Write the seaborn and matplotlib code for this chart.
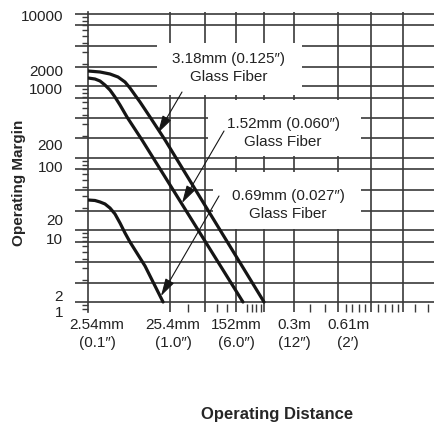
import numpy as np
import pandas as pd
import seaborn as sns
import matplotlib.pyplot as plt
from matplotlib.patches import Rectangle
from matplotlib.ticker import FixedLocator, NullFormatter, LogLocator

# Curves (distance in mm, operating margin)
fiber_318_x = [2.54, 3.56, 4.71, 5.90, 7.18, 8.26, 9.50, 10.94, 14.49, 22.1, 356]
fiber_318_y = [1616, 1565, 1468, 1334, 1136, 938, 750, 600, 371, 178, 1]
fiber_152_x = [2.54, 3.09, 3.56, 4.09, 4.71, 5.42, 6.24, 7.59, 11.57, 197]
fiber_152_y = [1292, 1251, 1173, 1032, 879, 703, 545, 371, 178, 1]
fiber_069_x = [2.54, 3.09, 3.56, 4.09, 4.71, 5.42, 6.24, 7.18, 8.26, 12.6, 20.9]
fiber_069_y = [26.1, 25.7, 24.5, 23.0, 20.2, 16.7, 12.5, 9.09, 6.81, 3.16, 1]

# grid and tick positions as they sit in the picture
x_grid = [25.4, 67.9, 162, 356, 826, 2843, 7178, 17623]
x_minor = [42.1, 95.1, 126, 221, 254, 284, 327, 1294, 1973, 3556, 4211,
           5126, 6066, 8740, 10637, 12945, 15317, 24693, 35560]
x_label_pos = [3.27, 27.6, 162, 826, 3764]
x_labels = ["2.54mm\n(0.1″)", "25.4mm\n(1.0″)", "152mm\n(6.0″)", "0.3m\n(12″)", "0.61m\n(2′)"]
y_grid = [1, 1.84, 3.6, 6.8, 10, 18.3, 36, 70, 100, 190, 359, 681,
          1000, 1836, 3594, 7030, 10000]
y_label_pos = [0.73, 1.25, 7.74, 13.8, 77.4, 152, 909, 1668, 9682]
y_labels = ["1", "2", "10", "20", "100", "200", "1000", "2000", "10000"]

df = pd.concat([
    pd.DataFrame({"distance": fiber_318_x, "margin": fiber_318_y, "fiber": "3.18mm"}),
    pd.DataFrame({"distance": fiber_152_x, "margin": fiber_152_y, "fiber": "1.52mm"}),
    pd.DataFrame({"distance": fiber_069_x, "margin": fiber_069_y, "fiber": "0.69mm"}),
])

sns.set_theme(style="white")
plt.rcParams["font.family"] = ["Liberation Sans", "DejaVu Sans"]
plt.rcParams["text.color"] = "#222222"

fig = plt.figure(figsize=(4.34, 4.29), dpi=100)
ax = fig.add_axes([88 / 434, 117 / 429, 346 / 434, 300 / 429])

sns.lineplot(data=df, x="distance", y="margin", hue="fiber",
             palette=["#151515"] * 3, linewidth=2.3, legend=False,
             estimator=None, ax=ax, zorder=3)

ax.set_xscale("log")
ax.set_yscale("log")
ax.set_xlim(2.54, 42100)
ax.set_ylim(0.7263, 10660)

gc = "#3a3a3a"
ax.vlines(x_grid, 0, 1, transform=ax.get_xaxis_transform(), colors=gc, lw=1.2, zorder=1)
ax.hlines(y_grid, -13 / 346, 1, transform=ax.get_yaxis_transform(), colors=gc,
          lw=1.2, zorder=1, clip_on=False)

for s in ["top", "right", "bottom"]:
    ax.spines[s].set_visible(False)
ax.spines["left"].set_color(gc)
ax.spines["left"].set_linewidth(1.2)

# white boxes behind the annotations
for x0, y0, w, h in [(0.1994, 0.7233, 0.419, 0.1733),
                     (0.3468, 0.52, 0.4422, 0.1867),
                     (0.3613, 0.2767, 0.4277, 0.19)]:
    ax.add_patch(Rectangle((x0, y0), w, h, transform=ax.transAxes,
                           facecolor="white", edgecolor="none", zorder=2, clip_on=False))

ax.text(0.4075, 0.8133, "3.18mm (0.125″)\nGlass Fiber", transform=ax.transAxes,
        ha="center", va="center", fontsize=11, linespacing=1.3, zorder=4)
ax.text(0.5636, 0.5967, "1.52mm (0.060″)\nGlass Fiber", transform=ax.transAxes,
        ha="center", va="center", fontsize=11, linespacing=1.3, zorder=4)
ax.text(0.578, 0.3567, "0.69mm (0.027″)\nGlass Fiber", transform=ax.transAxes,
        ha="center", va="center", fontsize=11, linespacing=1.3, zorder=4)

arrow = dict(arrowstyle="-|>,head_length=0.9,head_width=0.25", color="#151515",
             lw=0.8, shrinkA=0, shrinkB=0, mutation_scale=12)
ax.annotate("", xy=(18.1, 222), xytext=(0.2717, 0.7333),
            textcoords="axes fraction", arrowprops=arrow, zorder=4)
ax.annotate("", xy=(35.6, 23.7), xytext=(0.3931, 0.6033),
            textcoords="axes fraction", arrowprops=arrow, zorder=4)
ax.annotate("", xy=(19.7, 1.21), xytext=(0.3786, 0.3867),
            textcoords="axes fraction", arrowprops=arrow, zorder=4)

# ticks
ax.xaxis.set_major_locator(FixedLocator(x_label_pos))
ax.set_xticklabels(x_labels)
ax.xaxis.set_minor_locator(FixedLocator(x_minor))
ax.xaxis.set_minor_formatter(NullFormatter())
ax.yaxis.set_major_locator(FixedLocator(y_label_pos))
ax.set_yticklabels(y_labels)
ax.yaxis.set_minor_locator(LogLocator(base=10, subs=np.arange(2, 10), numticks=20))
ax.yaxis.set_minor_formatter(NullFormatter())

ax.tick_params(axis="x", which="major", bottom=True, length=0, pad=4.5, labelsize=11,
               labelcolor="#222222")
ax.tick_params(axis="x", which="minor", bottom=True, direction="in", length=6,
               width=1, color=gc)
ax.tick_params(axis="y", which="major", left=True, length=0, pad=18, labelsize=11,
               labelcolor="#222222")
ax.tick_params(axis="y", which="minor", left=True, direction="out", length=4,
               width=1, color=gc)
for lbl in ax.get_xticklabels():
    lbl.set_linespacing(1.3)

ax.set_xlabel("Operating Distance", fontsize=12, fontweight="bold")
ax.xaxis.set_label_coords(0.546, -0.317)
ax.set_ylabel("Operating Margin", fontsize=11, fontweight="bold")
ax.yaxis.set_label_coords(-0.179, 0.43)

fig.savefig("out.png", dpi=100)
